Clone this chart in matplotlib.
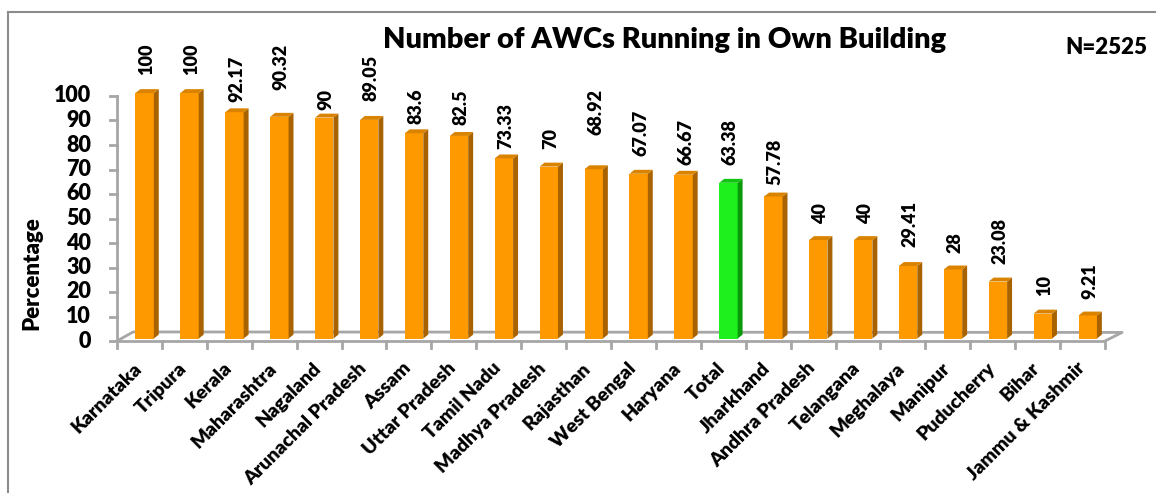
import matplotlib
matplotlib.use("Agg")
import matplotlib.pyplot as plt
from matplotlib.patches import Polygon
from matplotlib.lines import Line2D

states = ["Karnataka", "Tripura", "Kerala", "Maharashtra", "Nagaland",
          "Arunachal Pradesh", "Assam", "Uttar Pradesh", "Tamil Nadu",
          "Madhya Pradesh", "Rajasthan", "West Bengal", "Haryana", "Total",
          "Jharkhand", "Andhra Pradesh", "Telangana", "Meghalaya", "Manipur",
          "Puducherry", "Bihar", "Jammu & Kashmir"]
values = [100, 100, 92.17, 90.32, 90, 89.05, 83.6, 82.5, 73.33, 70, 68.92,
          67.07, 66.67, 63.38, 57.78, 40, 40, 29.41, 28, 23.08, 10, 9.21]
value_labels = ["100", "100", "92.17", "90.32", "90", "89.05", "83.6", "82.5",
                "73.33", "70", "68.92", "67.07", "66.67", "63.38", "57.78",
                "40", "40", "29.41", "28", "23.08", "10", "9.21"]
# where each data label sits (centre, in axis units) - moved by hand in the original
label_y = [115, 115, 106.8, 111.9, 98.6, 107.2, 95.7, 95.3, 87.9, 82.5, 93.6,
           85.0, 81.1, 81.3, 73.1, 52.2, 52.2, 47.6, 40.2, 40.7, 22.6, 24.6]
highlight = "Total"

plt.rcParams['font.family'] = ['Lato', 'DejaVu Sans']
W = "heavy"

fig = plt.figure(figsize=(11.56, 4.93), dpi=100)
ax = fig.add_axes([117 / 1156, 152 / 493, 988 / 1156, 245 / 493])
ax.set_xlim(0, len(states))
ax.set_ylim(0, 100)
ax.axis("off")

grey = "#a6a6a6"

# floor of the 3d plot
n = len(states)
ax.plot([0, n], [0, 0], color=grey, lw=2, clip_on=False, solid_capstyle="butt")
ax.plot([0, 0.36, n + 0.38, n], [0, 3.7, 3.5, 0], color=grey, lw=2, clip_on=False)

# y axis with ticks
ax.plot([0, 0], [0, 100], color=grey, lw=2, clip_on=False)
for t in range(0, 101, 10):
    ax.plot([-0.15, 0], [t, t], color=grey, lw=2, clip_on=False)
    ax.text(-0.58, t, str(t), ha="right", va="center", fontsize=15.5,
            fontweight=W)

# x ticks at category borders
for i in range(n + 1):
    ax.plot([i, i], [0, -2.8], color=grey, lw=2, clip_on=False)

# 3d-ish bars
dx, dy = 0.11, 1.6
for i, (s, v) in enumerate(zip(states, values)):
    if s == highlight:
        front, side, top = "#1ef01e", "#0a9a0a", "#12c412"
    else:
        front, side, top = "#ff9900", "#a86200", "#d98300"
    x0, x1 = i + 0.41, i + 0.82
    y0, y1 = 1.0, v + 1.2
    ax.add_patch(Polygon([(x0, y0), (x1, y0), (x1, y1), (x0, y1)],
                         closed=True, fc=front, ec="none", clip_on=False, zorder=3))
    ax.add_patch(Polygon([(x1, y0), (x1 + dx, y0 + dy), (x1 + dx, y1 + dy), (x1, y1)],
                         closed=True, fc=side, ec="none", clip_on=False, zorder=3))
    ax.add_patch(Polygon([(x0, y1), (x1, y1), (x1 + dx, y1 + dy), (x0 + dx, y1 + dy)],
                         closed=True, fc=top, ec="none", clip_on=False, zorder=3))
    ax.text(i + 0.66, label_y[i], value_labels[i], rotation=90, ha="center",
            va="center", fontsize=13, fontweight=W)
    ax.text(i + 0.62, -7.5, s, rotation=45, ha="right", va="top",
            fontsize=14, fontweight=W)

fig.text(32 / 1156, 1 - 273 / 493, "Percentage", rotation=90, ha="center",
         va="center", fontsize=16, fontweight=W)
fig.text(665 / 1156, 1 - 40 / 493, "Number of AWCs Running in Own Building",
         ha="center", va="center", fontsize=21, fontweight=W)
fig.text(1106 / 1156, 1 - 47 / 493, "N=2525", ha="center", va="center",
         fontsize=16, fontweight=W)

# outer frame of the chart area
fig.add_artist(Line2D([8 / 1156, 8 / 1156], [0, 1 - 12 / 493], color="#8c8c8c", lw=1.5))
fig.add_artist(Line2D([8 / 1156, 1], [1 - 12 / 493, 1 - 12 / 493], color="#8c8c8c", lw=1.5))

fig.savefig("out.png", dpi=100)
